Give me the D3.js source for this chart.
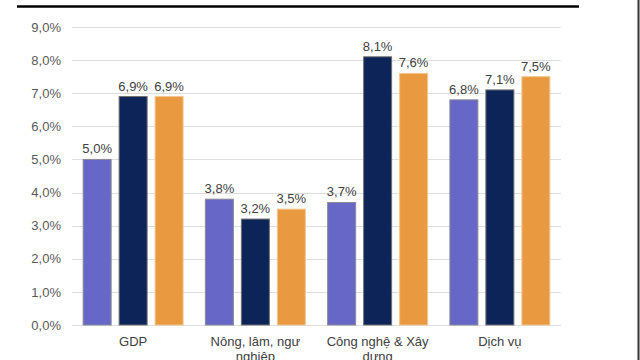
<!DOCTYPE html>
<html>
<head>
<meta charset="utf-8">
<script src="https://cdn.jsdelivr.net/npm/d3@7"></script>
<style>
  html, body { margin: 0; padding: 0; background: #fff; }
  svg { display: block; font-family: "Liberation Sans", Arial, sans-serif; }
</style>
</head>
<body>
<svg id="chart" width="640" height="360"></svg>
<script>
const categories = ["GDP", "Nông, lâm, ngư nghiệp", "Công nghệ & Xây dựng", "Dịch vụ"];
const categoryLines = [["GDP"], ["Nông, lâm, ngư", "nghiệp"], ["Công nghệ & Xây", "dựng"], ["Dịch vụ"]];
const seriesNames = ["s1", "s2", "s3"];
const series1 = [5.0, 3.8, 3.7, 6.8];
const series2 = [6.9, 3.2, 8.1, 7.1];
const series3 = [6.9, 3.5, 7.6, 7.5];
const yTicks = [0, 1, 2, 3, 4, 5, 6, 7, 8, 9];

const colors = ["#6767C7", "#0C2457", "#E99A40"];
const strokes = ["#8a8a9a", "#707070", "#f3c690"];
const seriesValues = [series1, series2, series3];

const svg = d3.select("#chart");
const plotLeft = 72, plotRight = 561, plotTop = 27, plotBottom = 325;

const y = d3.scaleLinear().domain([0, 9]).range([plotBottom, plotTop]);
const x0 = d3.scaleBand().domain(categories).range([plotLeft, plotRight]).paddingInner(0.174).paddingOuter(0.087);
const x1 = d3.scaleBand().domain(seriesNames).range([0, x0.bandwidth()]).paddingInner(0.194).paddingOuter(0);

const fmt = v => d3.format(".1f")(v).replace(".", ",") + "%";

// top black rule and right border
svg.append("line").attr("x1", 17).attr("x2", 579).attr("y1", 6.5).attr("y2", 6.5)
  .attr("stroke", "#000").attr("stroke-width", 2.5);
svg.append("line").attr("x1", 638.5).attr("x2", 638.5).attr("y1", 0).attr("y2", 360)
  .attr("stroke", "#333").attr("stroke-width", 2);

// gridlines
svg.append("g").selectAll("line").data(yTicks).join("line")
  .attr("x1", plotLeft).attr("x2", plotRight)
  .attr("y1", d => Math.round(y(d)) + 0.5).attr("y2", d => Math.round(y(d)) + 0.5)
  .attr("stroke", "#dedede").attr("stroke-width", 1);

// y axis labels
const yAxis = d3.axisLeft(y).tickValues(yTicks).tickSize(0).tickPadding(0).tickFormat(fmt);
const gy = svg.append("g").attr("transform", `translate(61,0)`).call(yAxis);
gy.select(".domain").remove();
gy.selectAll("text").attr("fill", "#595959").style("font-size", "13px")
  .style("font-family", "'Liberation Sans', Arial, sans-serif");

// bars
const groups = svg.append("g").selectAll("g").data(categories).join("g")
  .attr("transform", d => `translate(${x0(d)},0)`);

groups.each(function(cat, ci) {
  const g = d3.select(this);
  seriesNames.forEach((s, si) => {
    const v = seriesValues[si][ci];
    g.append("rect")
      .attr("x", x1(s) + 0.5)
      .attr("y", y(v))
      .attr("width", x1.bandwidth() - 1)
      .attr("height", y(0) - y(v))
      .attr("fill", colors[si])
      .attr("stroke", strokes[si])
      .attr("stroke-width", 1);
    g.append("text")
      .attr("x", x1(s) + x1.bandwidth() / 2)
      .attr("y", y(v) - 6)
      .attr("text-anchor", "middle")
      .attr("fill", "#404040")
      .style("font-size", "13px")
      .text(fmt(v));
  });
});

// x labels
const xl = svg.append("g").selectAll("text").data(categories).join("text")
  .attr("x", d => x0(d) + x0.bandwidth() / 2)
  .attr("y", 346)
  .attr("text-anchor", "middle")
  .attr("fill", "#404040")
  .style("font-size", "13px");
xl.each(function(d, i) {
  const t = d3.select(this);
  categoryLines[i].forEach((line, li) => {
    t.append("tspan").attr("x", x0(d) + x0.bandwidth() / 2).attr("dy", li === 0 ? 0 : 15).text(line);
  });
});
</script>
</body>
</html>
